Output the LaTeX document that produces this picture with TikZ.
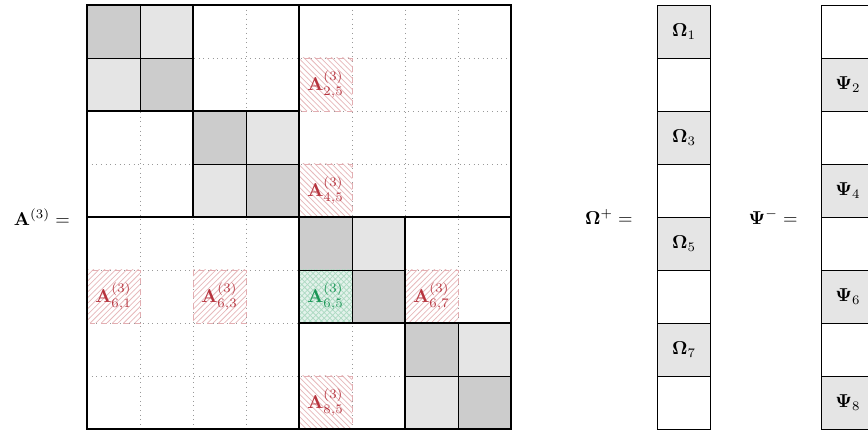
\documentclass[tikz,border=0pt]{standalone}
\usepackage{amsmath,bm}
\usetikzlibrary{patterns}
\definecolor{dgray}{gray}{0.8}
\definecolor{lgray}{gray}{0.9}
\definecolor{hred}{RGB}{183,52,62}
\definecolor{hgreen}{RGB}{25,150,85}
\tikzset{
  blockline/.style={line width=0.65pt, black},
  cellline/.style={line width=0.5pt, black},
  dotline/.style={gray!80, dotted, line width=0.5pt},
  rowhatch/.style={pattern=north east lines, pattern color=hred!35},
  colhatch/.style={pattern=north west lines, pattern color=hred!35},
  greenhatch/.style={fill=hgreen!12, postaction={pattern=crosshatch, pattern color=hgreen!35}},
  hatchborder/.style={draw=hred!40, dashed, line width=0.4pt},
  redlbl/.style={text=hred, inner sep=0pt},
  greenlbl/.style={text=hgreen, inner sep=0pt},
  vecbox/.style={draw=black, line width=0.5pt, minimum width=1cm, minimum height=1cm, inner sep=0pt, anchor=north west}
}
\begin{document}
\begin{tikzpicture}[x=1cm,y=-1cm]
\useasboundingbox (-1.6415,-0.0943) rectangle (14.736,8.019);
% dotted grid
\foreach \i in {1,2,3,5,6,7} {
  \draw[dotline] (\i,0) -- (\i,8);
  \draw[dotline] (0,\i) -- (8,\i);
}
% diagonal blocks
\foreach \k in {1,2,3,4} {
  \pgfmathtruncatemacro{\a}{2*\k-2}
  \fill[dgray] (\a,\a) rectangle ++(1,1);
  \fill[dgray] (\a+1,\a+1) rectangle ++(1,1);
  \fill[lgray] (\a+1,\a) rectangle ++(1,1);
  \ifnum\k=3\relax\else\fill[lgray] (\a,\a+1) rectangle ++(1,1);\fi
}
% hatched cells (row r, column c) -> (c-1,r-1)
\foreach \c/\r in {1/6,3/6,7/6} {
  \fill[rowhatch] (\c-1,\r-1) rectangle ++(1,1);
  \draw[hatchborder] (\c-1,\r-1) rectangle ++(1,1);
}
\foreach \c/\r in {5/2,5/4,5/8} {
  \fill[colhatch] (\c-1,\r-1) rectangle ++(1,1);
  \draw[hatchborder] (\c-1,\r-1) rectangle ++(1,1);
}
\fill[greenhatch] (4,5) rectangle ++(1,1);
% inner cell lines of diagonal blocks
\foreach \k in {0,2,4,6} {
  \draw[cellline] (\k+1,\k) -- (\k+1,\k+2);
  \draw[cellline] (\k,\k+1) -- (\k+2,\k+1);
  \draw[cellline] (\k,\k) rectangle (\k+2,\k+2);
}
% block lines
\draw[blockline] (4,0) -- (4,8);
\draw[blockline] (0,4) -- (8,4);
\draw[blockline] (2,0) -- (2,4);
\draw[blockline] (0,2) -- (4,2);
\draw[blockline] (6,4) -- (6,8);
\draw[blockline] (4,6) -- (8,6);
\draw[blockline] (0,0) rectangle (8,8);
% labels in matrix
\node[redlbl] (a25) at (4.5,1.5) {$\mathbf{A}^{(3)}_{2,5}$};
\node[redlbl] (a45) at (4.5,3.5) {$\mathbf{A}^{(3)}_{4,5}$};
\node[redlbl] (a61) at (0.5,5.5) {$\mathbf{A}^{(3)}_{6,1}$};
\node[redlbl] (a63) at (2.5,5.5) {$\mathbf{A}^{(3)}_{6,3}$};
\node[greenlbl] (a65) at (4.5,5.5) {$\mathbf{A}^{(3)}_{6,5}$};
\node[redlbl] (a67) at (6.5,5.5) {$\mathbf{A}^{(3)}_{6,7}$};
\node[redlbl] (a85) at (4.5,7.5) {$\mathbf{A}^{(3)}_{8,5}$};
\node[anchor=east] (lA) at (-0.2,4) {$\mathbf{A}^{(3)} =$};
% Omega column
\node[anchor=east] (lO) at (10.42,4) {$\bm{\Omega}^{+} =$};
\foreach \j in {1,...,8} {
  \pgfmathtruncatemacro{\odd}{mod(\j,2)}
  \ifnum\odd=1
    \node[vecbox, fill=lgray] (o\j) at (10.755,\j-1) {};
    \node (ol\j) at (o\j.center) {$\bm{\Omega}_{\j}$};
  \else
    \node[vecbox] (o\j) at (10.755,\j-1) {};
  \fi
}
% Psi column
\node[anchor=east] (lP) at (13.53,4) {$\bm{\Psi}^{-} =$};
\foreach \j in {1,...,8} {
  \pgfmathtruncatemacro{\odd}{mod(\j,2)}
  \ifnum\odd=0
    \node[vecbox, fill=lgray] (p\j) at (13.849,\j-1) {};
    \node (pl\j) at (p\j.center) {$\bm{\Psi}_{\j}$};
  \else
    \node[vecbox] (p\j) at (13.849,\j-1) {};
  \fi
}
\end{tikzpicture}
\end{document}
